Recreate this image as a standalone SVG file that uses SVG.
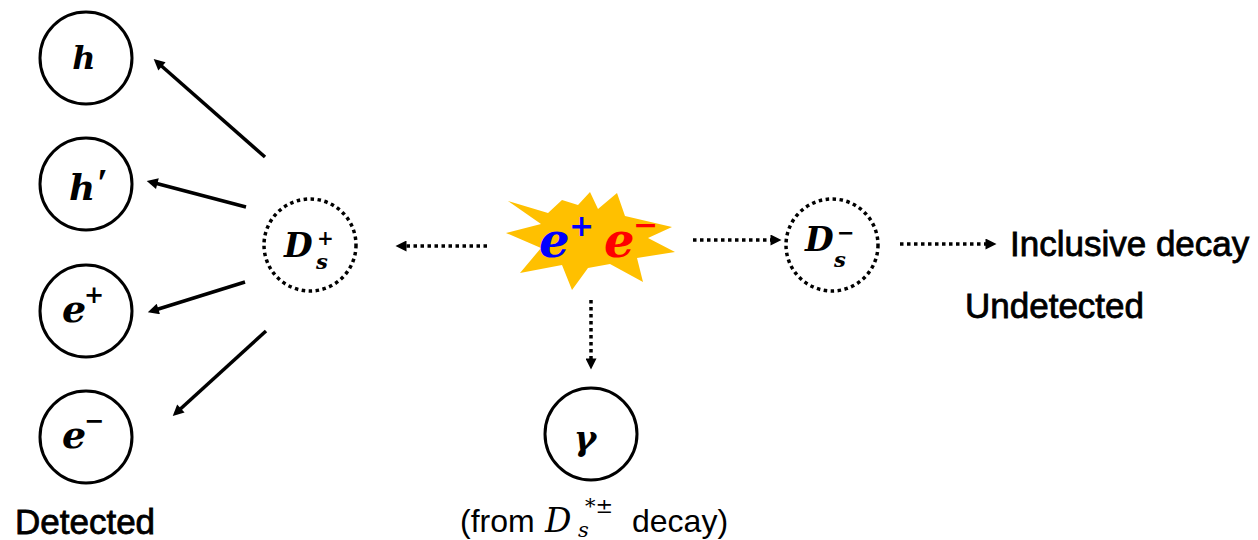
<svg xmlns="http://www.w3.org/2000/svg" width="1258" height="540" viewBox="0 0 1258 540">
<defs>
<marker id="ah" viewBox="0 0 10 10" refX="6" refY="5" markerWidth="13" markerHeight="11" markerUnits="userSpaceOnUse" orient="auto"><path d="M0,0 L10,5 L0,10 z" fill="#000"/></marker>
<marker id="ad" viewBox="0 0 10 10" refX="5" refY="5" markerWidth="12" markerHeight="11" markerUnits="userSpaceOnUse" orient="auto"><path d="M0,0 L10,5 L0,10 z" fill="#000"/></marker>
</defs>
<style>
.node{fill:#fff;stroke:#000;stroke-width:3}
.dnode{fill:#fff;stroke:#000;stroke-width:3.5;stroke-dasharray:3.5 3.5}
.m{font-family:"DejaVu Serif","Liberation Serif",serif;font-weight:bold;font-style:italic;fill:#000}
.mi{font-family:"DejaVu Serif","Liberation Serif",serif;font-style:italic;fill:#000}
.lbl{font-family:"Liberation Sans",Arial,sans-serif;font-size:35px;fill:#000;stroke:#000;stroke-width:0.8}
.sm{font-family:"Liberation Sans",Arial,sans-serif;font-size:32px;fill:#000}
.sol{stroke:#000;stroke-width:3.5;fill:none;marker-end:url(#ah)}
.dot{stroke:#000;stroke-width:3.5;fill:none;stroke-dasharray:3.5 3.5;marker-end:url(#ad)}
</style>
<g id="connectors">
<line class="sol" x1="265" y1="157" x2="157" y2="62"/>
<line class="sol" x1="246" y1="207" x2="151" y2="182"/>
<line class="sol" x1="245" y1="282" x2="152" y2="311"/>
<line class="sol" x1="266" y1="331" x2="176" y2="413"/>
<line class="dot" x1="487" y1="246" x2="401" y2="246"/>
<line class="dot" x1="693" y1="240" x2="776" y2="240"/>
<line class="dot" x1="591" y1="300" x2="591" y2="364"/>
<line class="dot" x1="900" y1="244" x2="991" y2="244"/>
</g>
<g id="node-h"><circle class="node" cx="86" cy="58" r="46"/><text class="m" x="84" y="69" font-size="32" text-anchor="middle">h</text></g>
<g id="node-hp"><circle class="node" cx="86" cy="184" r="46"/><text class="m" x="69" y="200" font-size="36">h</text><text x="97" y="196" font-family="Liberation Serif,serif" font-weight="bold" font-size="40" fill="#000">′</text></g>
<g id="node-ep"><circle class="node" cx="86" cy="311" r="46"/><text class="m" x="62" y="322" font-size="38">e</text><text class="m" x="84" y="303" font-size="24">+</text></g>
<g id="node-em"><circle class="node" cx="86" cy="437" r="46"/><text class="m" x="62" y="448" font-size="38">e</text><text class="m" x="84" y="429" font-size="24">−</text></g>
<g id="node-dsp"><circle class="dnode" cx="310" cy="245" r="46"/><text class="m" x="284" y="257" font-size="33">D</text><text class="m" x="317" y="245" font-size="20">+</text><text class="m" x="316" y="269" font-size="21">s</text></g>
<g id="node-ee">
<polygon fill="#FFC000" points="508,201 548,213 562,200 578,205 590,192 598,209 617,193 625,216 672,227 648,238 675,252 637,258 643,282 610,264 588,268 572,290 562,265 520,273 541,248 506,233 541,224"/>
<text class="m" x="539" y="257" font-size="48" style="fill:#0000FF">e</text>
<text class="m" x="569" y="236" font-size="30" style="fill:#0000FF">+</text>
<text class="m" x="604" y="257" font-size="48" style="fill:#FF0000">e</text>
<text class="m" x="633" y="235" font-size="30" style="fill:#FF0000">−</text>
</g>
<g id="node-dsm"><circle class="dnode" cx="832" cy="245" r="46"/><text class="m" x="805" y="251" font-size="33">D</text><text class="m" x="837" y="240" font-size="21">−</text><text class="m" x="834" y="267" font-size="21">s</text></g>
<g id="node-gamma"><circle class="node" cx="591" cy="434" r="46"/><text class="m" x="585" y="450" font-size="34" text-anchor="middle">γ</text></g>
<g id="node-incl"><text class="lbl" x="1010" y="256">Inclusive decay</text></g>
<text class="lbl" x="965" y="318">Undetected</text>
<text class="lbl" x="15" y="534">Detected</text>
<text class="sm" x="460" y="532">(from</text>
<text class="mi" x="545" y="532" font-size="33">D</text>
<text class="mi" x="578" y="537" font-size="21">s</text>
<text class="mi" x="585" y="513" font-size="21">*±</text>
<text class="sm" x="632" y="532">decay)</text>
</svg>
